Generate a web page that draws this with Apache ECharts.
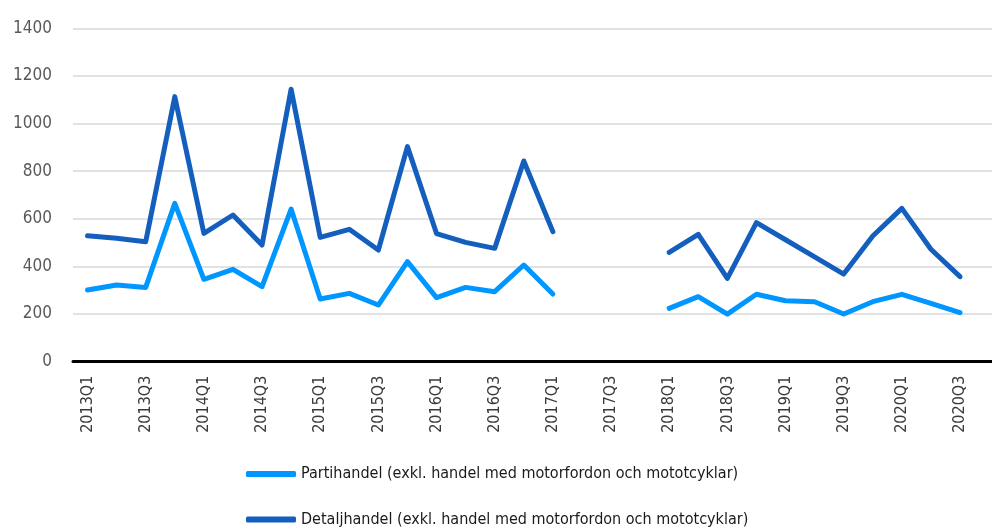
<!DOCTYPE html>
<html>
<head>
<meta charset="utf-8">
<script src="https://cdn.jsdelivr.net/npm/echarts@6/dist/echarts.min.js"></script>
<style>
  html, body { margin: 0; padding: 0; background: #fff; }
  #chart { width: 992px; height: 530px; }
</style>
</head>
<body>
<div id="chart"></div>
<script>
const quarters = [
  '2013Q1', '2013Q2', '2013Q3', '2013Q4',
  '2014Q1', '2014Q2', '2014Q3', '2014Q4',
  '2015Q1', '2015Q2', '2015Q3', '2015Q4',
  '2016Q1', '2016Q2', '2016Q3', '2016Q4',
  '2017Q1', '2017Q2', '2017Q3', '2017Q4',
  '2018Q1', '2018Q2', '2018Q3', '2018Q4',
  '2019Q1', '2019Q2', '2019Q3', '2019Q4',
  '2020Q1', '2020Q2', '2020Q3'
]

const partihandel = [
  301, 322, 312, 665,
  346, 388, 315, 641,
  263, 287, 238, 420,
  269, 312, 294, 406,
  284, null, null, null,
  224, 273, 200, 283,
  256, 252, 200, 252,
  283, 245, 206
]

const detaljhandel = [
  529, 518, 504, 1113,
  539, 616, 490, 1144,
  522, 556, 469, 903,
  538, 501, 476, 843,
  546, null, null, null,
  459, 535, 350, 584,
  512, 440, 368, 528,
  644, 472, 357
]

const yTicks = [0, 200, 400, 600, 800, 1000, 1200, 1400]

const seriesNames = [
  'Partihandel (exkl. handel med motorfordon och mototcyklar)',
  'Detaljhandel (exkl. handel med motorfordon och mototcyklar)'
]
const seriesColors = ['#0096FF', '#145FBE']

const font = "'Liberation Sans Narrow', 'DejaVu Sans Condensed', sans-serif"
const labelIdx = quarters.map((_, i) => i).filter(i => i % 2 === 0)

const chart = echarts.init(document.getElementById('chart'))

function toPairs(values) {
  return values.map((v, i) => [i, v])
}

// one legend per row, stacked like the original
const legends = seriesNames.map((name, i) => ({
  left: 246,
  top: 466 + i * 45.5,
  padding: 0,
  itemWidth: 50,
  itemHeight: 6,
  icon: 'roundRect',
  textStyle: { fontFamily: font, fontSize: 16, color: '#1a1a1a' },
  data: [name]
}))

chart.setOption({
  animation: false,
  grid: { left: 73, right: 0, top: 28.3, bottom: 168.3, containLabel: false, outerBoundsMode: 'none' },
  legend: legends,
  xAxis: {
    type: 'value',
    min: -0.5,
    max: 31.1,
    splitLine: { show: false },
    axisTick: { show: false },
    axisLine: { show: true, lineStyle: { color: '#000', width: 3 } },
    axisLabel: {
      customValues: labelIdx,
      formatter: v => quarters[v] || '',
      rotate: 90,
      margin: 14,
      fontFamily: font,
      fontSize: 16,
      color: '#3a3a3a'
    }
  },
  yAxis: {
    type: 'value',
    min: yTicks[0],
    max: yTicks[yTicks.length - 1],
    interval: 200,
    axisLine: { show: false },
    axisTick: { show: false },
    splitLine: { lineStyle: { color: '#d9d9d9', width: 1.5 } },
    axisLabel: {
      margin: 21,
      fontFamily: font,
      fontSize: 17,
      color: '#595959',
      formatter: v => String(v)
    }
  },
  series: [
    {
      name: seriesNames[0],
      type: 'line',
      data: toPairs(partihandel),
      showSymbol: false,
      symbol: 'none',
      color: seriesColors[0],
      lineStyle: { width: 5, cap: 'round', join: 'round' }
    },
    {
      name: seriesNames[1],
      type: 'line',
      data: toPairs(detaljhandel),
      showSymbol: false,
      symbol: 'none',
      color: seriesColors[1],
      lineStyle: { width: 5, cap: 'round', join: 'round' }
    }
  ]
})
</script>
</body>
</html>
